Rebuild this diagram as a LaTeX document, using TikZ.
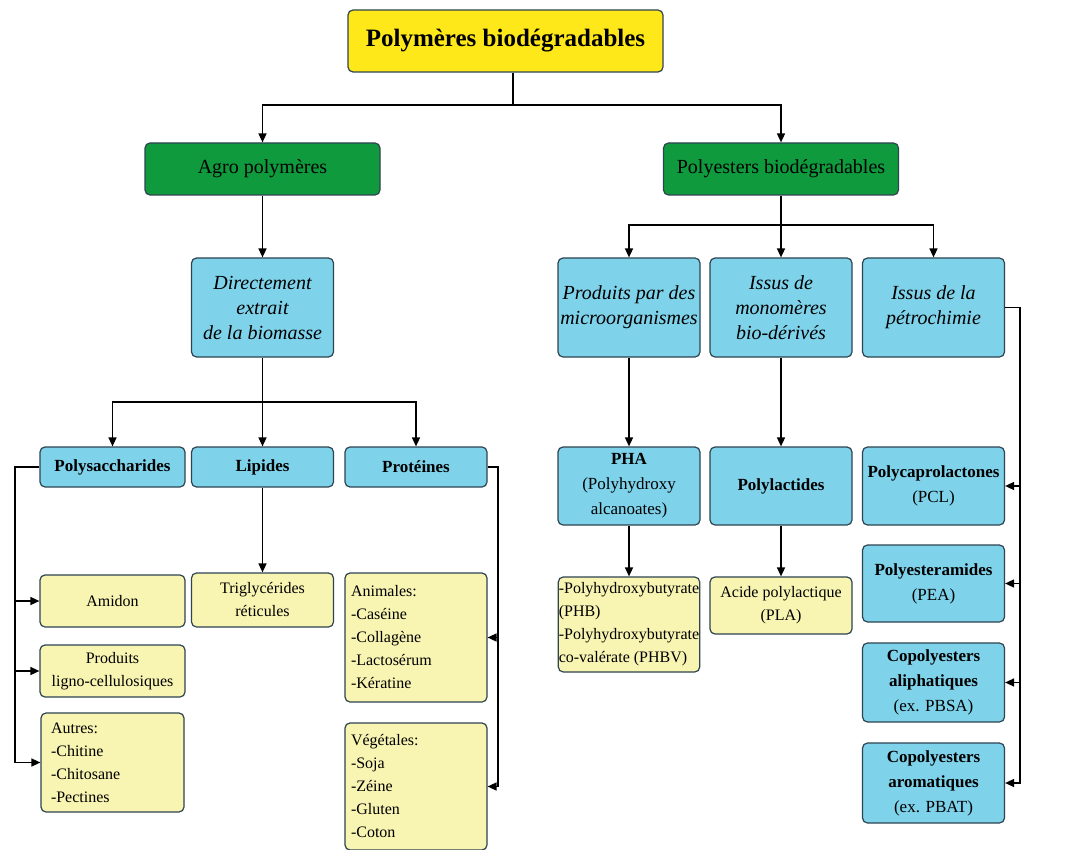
\documentclass[tikz,border=0pt]{standalone}
\usepackage{fontspec}
\setmainfont{Liberation Serif}
\usetikzlibrary{arrows.meta}
\definecolor{titleyellow}{HTML}{FFE81A}
\definecolor{agrogreen}{HTML}{109A3E}
\definecolor{skyblue}{HTML}{7ED2EA}
\definecolor{paleyellow}{HTML}{F8F4B2}
\definecolor{boxline}{HTML}{2E4450}
\begin{document}
\begin{tikzpicture}
	[x=1pt,y=-1pt,
	box/.style={draw=boxline,line width=1.2pt,rounded corners=5pt,inner sep=2pt,align=center},
	titlebox/.style={box,fill=titleyellow,minimum width=315pt,minimum height=62pt,font=\fontsize{25}{30}\selectfont\bfseries},
	greenbox/.style={box,fill=agrogreen,minimum width=235pt,minimum height=52pt,font=\fontsize{20}{24}\selectfont},
	bluebox/.style={box,fill=skyblue,minimum width=142pt,font=\fontsize{17}{25}\selectfont},
	italbox/.style={bluebox,minimum height=99pt,font=\fontsize{20}{25}\selectfont\itshape},
	palebox/.style={box,fill=paleyellow,minimum width=142pt,font=\fontsize{16}{23}\selectfont},
	listbox/.style={palebox,align=left,text width=130pt,inner xsep=6pt},
	link/.style={line width=1.5pt,black},
	arr/.style={-{Triangle[length=9pt,width=8pt]}}]
	\useasboundingbox (0,0) rectangle (1065,850);
	\fill[white] (0,0) rectangle (1065,850);
	\node[titlebox] (title) at (505.5,41) {Polymères biodégradables};
	\node[greenbox] (agro) at (262.5,169) {Agro polymères};
	\node[greenbox] (poly) at (781,169) {Polyesters biodégradables};
	\node[italbox] (direct) at (262.5,307.5) {Directement\\extrait\\de la biomasse};
	\node[italbox] (produits) at (629,307.5) {Produits par des\\microorganismes};
	\node[italbox] (monom) at (781,307.5) {Issus de\\monomères\\bio-dérivés};
	\node[italbox] (petro) at (933.5,307.5) {Issus de la\\pétrochimie};
	\node[bluebox,minimum width=145pt,minimum height=40pt,font=\fontsize{17}{25}\selectfont\bfseries] (polysac) at (112.5,467) {Polysaccharides};
	\node[bluebox,minimum height=40pt,font=\fontsize{17}{25}\selectfont\bfseries] (lipides) at (262.5,467) {Lipides};
	\node[bluebox,minimum height=40pt,font=\fontsize{17}{25}\selectfont\bfseries] (proteines) at (416,467) {Protéines};
	\node[bluebox,minimum height=78pt] (pha) at (629,486) {\textbf{PHA}\\(Polyhydroxy\\alcanoates)};
	\node[bluebox,minimum height=78pt,font=\fontsize{17}{25}\selectfont\bfseries] (polylact) at (781,486) {Polylactides};
	\node[bluebox,minimum height=78pt] (pcl) at (933.5,486) {\textbf{Polycaprolactones}\\(PCL)};
	\node[bluebox,minimum height=77pt] (pea) at (933.5,583.5) {\textbf{Polyesteramides}\\(PEA)};
	\node[bluebox,minimum height=79pt] (aliph) at (933.5,682.5) {\textbf{Copolyesters}\\\textbf{aliphatiques}\\(ex. PBSA)};
	\node[bluebox,minimum height=80pt] (arom) at (933.5,783) {\textbf{Copolyesters}\\\textbf{aromatiques}\\(ex. PBAT)};
	\node[palebox,minimum width=145pt,minimum height=52pt] (amidon) at (112.5,601) {Amidon};
	\node[palebox,minimum width=145pt,minimum height=52pt] (ligno) at (112.5,671) {Produits\\ligno-cellulosiques};
	\node[listbox,text width=123pt,inner xsep=10pt,minimum height=99pt] (autres) at (112.5,762.5) {Autres:\\-Chitine\\-Chitosane\\-Pectines};
	\node[palebox,minimum height=54pt] (trigly) at (262.5,600) {Triglycérides\\réticules};
	\node[listbox,minimum height=129pt] (animales) at (416,637.5) {Animales:\\-Caséine\\-Collagène\\-Lactosérum\\-Kératine};
	\node[listbox,minimum height=127pt] (vegetales) at (416,786.5) {Végétales:\\-Soja\\-Zéine\\-Gluten\\-Coton};
	\node[palebox,align=left,inner xsep=0.5pt,minimum width=141pt,minimum height=95pt] (phb) at (629,624.5) {-Polyhydroxybutyrate\\(PHB)\\-Polyhydroxybutyrate\\co-valérate (PHBV)};
	\node[palebox,minimum height=57pt] (pla) at (781,605.5) {Acide polylactique\\(PLA)};
	\coordinate (split0) at (513,105);
	\coordinate (split2) at (262.5,402);
	\coordinate (split3) at (781,225);
	\coordinate (lbus) at (15,467);
	\coordinate (rbus) at (498,467);
	\coordinate (pbus) at (1020,305);
	\draw[link] (title.south -| split0) -- (split0);
	\draw[link,arr] (split0) -| (agro);
	\draw[link,arr] (split0) -| (poly);
	\draw[link,arr] (agro) -- (direct);
	\draw[link] (direct) -- (split2);
	\draw[link,arr] (split2) -| (polysac);
	\draw[link,arr] (split2) -- (lipides);
	\draw[link,arr] (split2) -| (proteines);
	\draw[link] (poly) -- (split3);
	\draw[link,arr] (split3) -| (produits);
	\draw[link,arr] (split3) -- (monom);
	\draw[link,arr] (split3) -| (petro);
	\draw[link,arr] (produits) -- (pha);
	\draw[link,arr] (monom) -- (polylact);
	\draw[link,arr] (pha) -- (phb);
	\draw[link,arr] (polylact) -- (pla);
	\draw[link,arr] (lipides) -- (trigly);
	\draw[link,arr] (polysac.west) -| (lbus |- autres.west) -- (autres.west);
	\draw[link,arr] (lbus |- amidon.west) -- (amidon.west);
	\draw[link,arr] (lbus |- ligno.west) -- (ligno.west);
	\draw[link,arr] (proteines.east) -| (rbus |- vegetales.east) -- (vegetales.east);
	\draw[link,arr] (rbus |- animales.east) -- (animales.east);
	\draw[link,arr] (petro.east) -| (pbus |- arom.east) -- (arom.east);
	\draw[link,arr] (pbus |- pcl.east) -- (pcl.east);
	\draw[link,arr] (pbus |- pea.east) -- (pea.east);
	\draw[link,arr] (pbus |- aliph.east) -- (aliph.east);
\end{tikzpicture}
\end{document}
